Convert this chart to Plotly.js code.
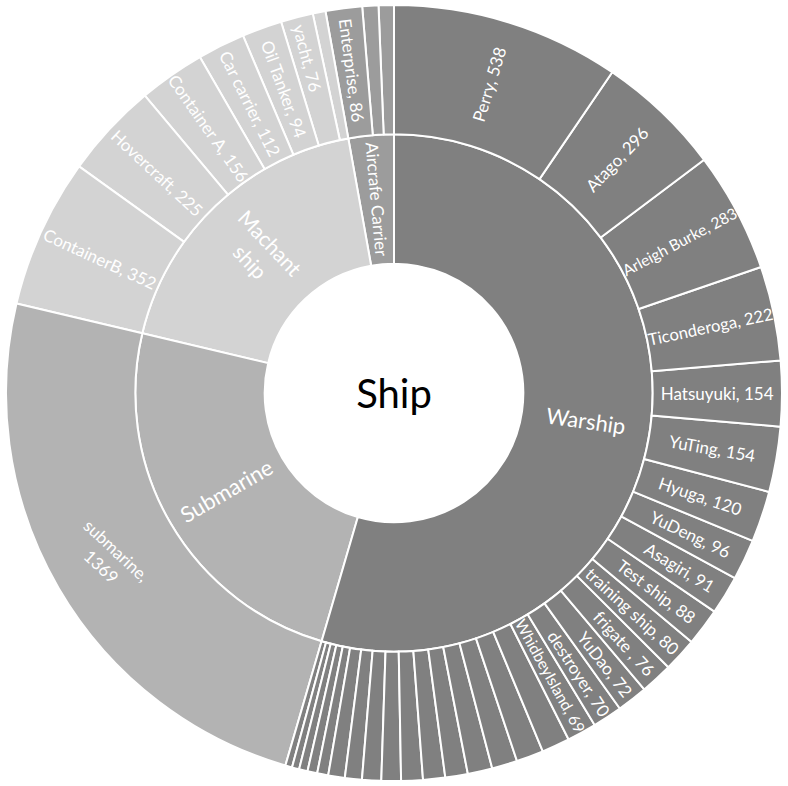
<!DOCTYPE html>
<html>
<head>
<meta charset="utf-8">
<script src="https://cdn.plot.ly/plotly-3.0.1.min.js"></script>
<style>
  html, body { margin: 0; padding: 0; background: #fff; }
  #chart { width: 788px; height: 786px; }
</style>
</head>
<body>
<div id="chart"></div>
<script>
// hierarchy data (clockwise order from 12 o'clock, as in the picture)
const rootName = 'Ship';
const groupNames = ['Warship', 'Submarine', 'Machant ship', 'Aircrafe Carrier'];
const groupLabels = ['Warship', 'Submarine', 'Machant<br>ship', 'Aircrafe Carrier'];

const warshipNames = ['Perry', 'Atago', 'Arleigh Burke', 'Ticonderoga', 'Hatsuyuki', 'YuTing', 'Hyuga',
  'YuDeng', 'Asagiri', 'Test ship', 'training ship', 'frigate ', 'YuDao', 'destroyer', 'WhidbeyIsland'];
const warshipValues = [538, 296, 283, 222, 154, 154, 120, 96, 91, 88, 80, 76, 72, 70, 69,
  66, 64, 60, 58, 53, 52, 51, 46, 45, 40, 39, 26, 23, 20, 17, 16];

const submarineNames = ['submarine'];
const submarineValues = [1369];

const machantNames = ['ContainerB', 'Hovercraft', 'Container A', 'Car carrier', 'Oil Tanker', 'yacht'];
const machantValues = [352, 225, 156, 112, 94, 76, 30];

const carrierNames = ['Enterprise'];
const carrierValues = [86, 38, 36];

const groupColors = ['#808080', '#b3b3b3', '#d3d3d3', '#9c9c9c'];

const children = [
  [warshipNames, warshipValues],
  [submarineNames, submarineValues],
  [machantNames, machantValues],
  [carrierNames, carrierValues]
];

const W = 788, H = 786, M = 5;
const R = Math.min(W - 2 * M, H - 2 * M) / 2;
const fontFamily = 'Lato, "Open Sans", sans-serif';

// build sunburst arrays
const ids = [rootName], labels = [rootName], parents = [''], values = [0];
const text = [rootName], colors = ['#ffffff'], fontColors = ['#000000'], fontSizes = [40];

// plotly lays sectors out counterclockwise, so feed them in reverse
for (let g = groupNames.length - 1; g >= 0; g--) {
  ids.push(groupNames[g]); labels.push(groupNames[g]); parents.push(rootName); values.push(0);
  text.push(''); colors.push(groupColors[g]); fontColors.push('#ffffff'); fontSizes.push(22);
  const [names, vals] = children[g];
  for (let i = vals.length - 1; i >= 0; i--) {
    const name = names[i];
    ids.push(groupNames[g] + '-' + i);
    labels.push(name || '');
    parents.push(groupNames[g]);
    values.push(vals[i]);
    // submarine label is drawn as an annotation (tilted, two lines)
    text.push(name && name !== 'submarine' ? `${name}, ${vals[i]}` : '');
    colors.push(groupColors[g]);
    fontColors.push('#ffffff');
    fontSizes.push(17);
  }
}

// radial labels for the inner ring, placed at each sector's middle angle
const sum = a => a.reduce((s, v) => s + v, 0);
const groupTotals = children.map(c => sum(c[1]));
const grand = sum(groupTotals);
const toPaper = (r, phi) => {
  const a = phi * Math.PI / 180;
  return { x: 0.5 + r * Math.sin(a) / (W - 2 * M), y: 0.5 + r * Math.cos(a) / (H - 2 * M) };
};
const radialAngle = phi => (phi < 180 ? phi - 90 : phi - 270);
const innerSizes = [22, 22, 21, 17];

const annotations = [];
let cum = 0;
groupNames.forEach((g, k) => {
  const phi = 360 * (cum + groupTotals[k] / 2) / grand;
  const p = toPaper(R * 0.5, phi);
  annotations.push({
    x: p.x, y: p.y, xref: 'paper', yref: 'paper', xanchor: 'center', yanchor: 'middle',
    showarrow: false, text: groupLabels[k], textangle: radialAngle(phi),
    font: { family: fontFamily, size: innerSizes[k], color: '#ffffff' }
  });
  if (g === 'Submarine') {
    const q = toPaper(R * 0.85, phi);
    annotations.push({
      x: q.x, y: q.y, xref: 'paper', yref: 'paper', xanchor: 'center', yanchor: 'middle',
      showarrow: false, text: `${submarineNames[0]},<br>${submarineValues[0]}`, textangle: 43,
      font: { family: fontFamily, size: 17, color: '#ffffff' }
    });
  }
  cum += groupTotals[k];
});

const trace = {
  type: 'sunburst',
  ids: ids,
  labels: labels,
  parents: parents,
  values: values,
  text: text,
  textinfo: 'text',
  branchvalues: 'remainder',
  sort: false,
  rotation: 90,
  insidetextorientation: 'radial',
  marker: { colors: colors, line: { color: '#ffffff', width: 2 } },
  leaf: { opacity: 1 },
  textfont: { family: fontFamily, color: fontColors, size: fontSizes },
  hoverinfo: 'label+value'
};

const layout = {
  width: W,
  height: H,
  margin: { l: M, r: M, t: M, b: M },
  paper_bgcolor: '#ffffff',
  showlegend: false,
  annotations: annotations
};

Plotly.newPlot('chart', [trace], layout, { displayModeBar: false });
</script>
</body>
</html>
